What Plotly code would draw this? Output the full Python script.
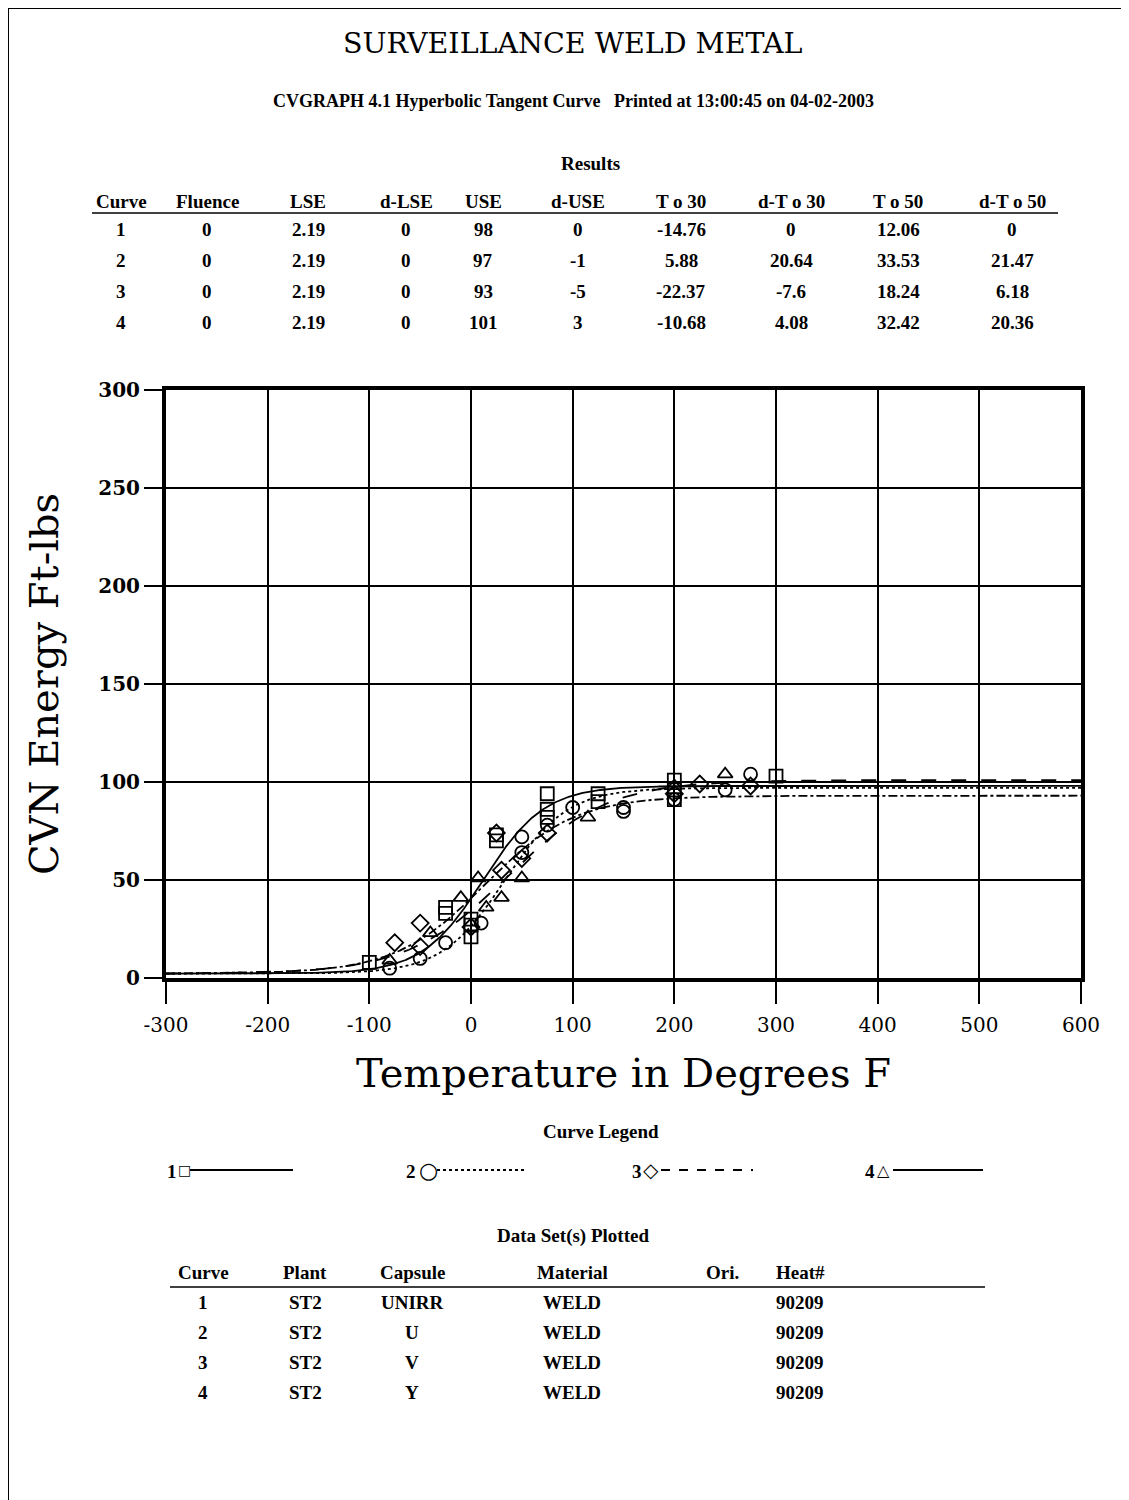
import numpy as np
import plotly.graph_objects as go

# ---------------- data ----------------
curve_ids = [1, 2, 3, 4]
fluence = [0, 0, 0, 0]
lse = [2.19, 2.19, 2.19, 2.19]
d_lse = [0, 0, 0, 0]
use = [98, 97, 93, 101]
d_use = [0, -1, -5, 3]
t30 = [-14.76, 5.88, -22.37, -10.68]
d_t30 = [0, 20.64, -7.6, 4.08]
t50 = [12.06, 33.53, 18.24, 32.42]
d_t50 = [0, 21.47, 6.18, 20.36]

plant = ["ST2", "ST2", "ST2", "ST2"]
capsule = ["UNIRR", "U", "V", "Y"]
material = ["WELD", "WELD", "WELD", "WELD"]
ori = ["", "", "", ""]
heat = ["90209", "90209", "90209", "90209"]

# measured Charpy points (temperature F, energy ft-lbs)
c1_temp = [-100, -25, -25, 0, 0, 0, 25, 25, 75, 75, 75, 125, 125, 200, 200, 200, 300]
c1_energy = [8, 36, 33, 30, 27, 21, 73, 70, 94, 86, 82, 94, 90, 101, 96, 91, 103]
c2_temp = [-80, -50, -25, 10, 50, 50, 75, 100, 150, 150, 200, 250, 275]
c2_energy = [5, 10, 18, 28, 72, 64, 78, 87, 87, 85, 91, 96, 104]
c3_temp = [-75, -50, -50, 0, 25, 30, 50, 75, 200, 225, 275]
c3_energy = [18, 28, 16, 26, 74, 55, 61, 74, 94, 99, 98]
c4_temp = [-80, -40, -10, 7, 15, 30, 50, 115, 200, 250]
c4_energy = [9, 23, 41, 51, 36, 41, 51, 82, 98, 104]

x_ticks = [-300, -200, -100, 0, 100, 200, 300, 400, 500, 600]
y_ticks = [0, 50, 100, 150, 200, 250, 300]

# ---------------- layout helpers ----------------
OFF = 8  # default body margin of the html page
W, H = 1129 - 2 * OFF, 1500 - OFF
L, R, T, B = 166, 1081, 390, 978   # target page pixel positions of plot box


def px(x):
    return (x - L) / (R - L)


def py(y):
    return (B - y) / (B - T)


fig = go.Figure()

# tanh curves from fitted parameters
temps = np.linspace(-300, 600, 901)
dashes = ["solid", "dot", "dashdot", "longdash"]
for i in range(4):
    A = (use[i] + lse[i]) / 2
    Bh = (use[i] - lse[i]) / 2
    u30 = np.arctanh((30 - A) / Bh)
    u50 = np.arctanh((50 - A) / Bh)
    C = (t50[i] - t30[i]) / (u50 - u30)
    T0 = t30[i] - C * u30
    e = A + Bh * np.tanh((temps - T0) / C)
    fig.add_trace(go.Scatter(x=temps, y=e, mode="lines",
                             line=dict(color="black", width=1.8, dash=dashes[i]),
                             showlegend=False, hoverinfo="skip"))

symbols = ["square-open", "circle-open", "diamond-open", "triangle-up-open"]
pts = [(c1_temp, c1_energy), (c2_temp, c2_energy), (c3_temp, c3_energy), (c4_temp, c4_energy)]
for i, (xs, ys) in enumerate(pts):
    fig.add_trace(go.Scatter(x=xs, y=ys, mode="markers",
                             marker=dict(symbol=symbols[i], size=13, color="black",
                                         line=dict(width=1.8, color="black")),
                             showlegend=False, name=f"Curve {curve_ids[i]}"))

serif = "DejaVu Serif"
cond = "Liberation Serif, Times New Roman, serif"

fig.update_layout(
    width=W, height=H,
    margin=dict(l=L - OFF, r=(W + OFF) - R, t=T - OFF, b=(H + OFF) - B),
    paper_bgcolor="white", plot_bgcolor="white",
    showlegend=False,
    xaxis=dict(range=[-300, 600], tickvals=x_ticks, ticktext=[str(v) for v in x_ticks],
               showgrid=True, gridcolor="black", gridwidth=1.5,
               showline=True, linecolor="black", linewidth=4, mirror=True,
               ticks="outside", ticklen=22, tickwidth=1.5, tickcolor="black",
               ticklabelstandoff=4,
               zeroline=False,
               tickfont=dict(family=serif, size=20, color="black"),
               title=dict(text="Temperature in Degrees F",
                          font=dict(family=serif, size=40, color="black"), standoff=24)),
    yaxis=dict(range=[0, 300], tickvals=y_ticks, ticktext=[str(v) for v in y_ticks],
               showgrid=True, gridcolor="black", gridwidth=1.5,
               showline=True, linecolor="black", linewidth=4, mirror=True,
               ticks="outside", ticklen=18, tickwidth=1.5, tickcolor="black",
               zeroline=False,
               tickfont=dict(family=serif, size=20, color="black", weight="bold"),
               title=dict(text="CVN Energy Ft-lbs",
                          font=dict(family=serif, size=40, color="black"), standoff=28)),
)

ann = []


def text(x, y, s, size=19, family=cond, bold=True, xanchor="center"):
    ann.append(dict(x=px(x), y=py(y), xref="paper", yref="paper", text=s, showarrow=False,
                    xanchor=xanchor, yanchor="middle",
                    font=dict(family=family, size=size, color="black",
                              weight="bold" if bold else "normal")))


shapes = []


def hline(x0, x1, y, width=1.5, dash="solid"):
    shapes.append(dict(type="line", xref="paper", yref="paper",
                       x0=px(x0), x1=px(x1), y0=py(y), y1=py(y),
                       line=dict(color="black", width=width, dash=dash)))


# titles
text(573, 44, "SURVEILLANCE WELD METAL", size=28.5, family=serif, bold=False)
text(573, 101, "CVGRAPH 4.1 Hyperbolic Tangent Curve   Printed at 13:00:45 on 04-02-2003", size=18)

# results table
text(590, 163, "Results", size=19)
res_cols = [121, 207, 308, 406, 483, 578, 681, 791, 898, 1012]
res_head = ["Curve", "Fluence", "LSE", "d-LSE", "USE", "d-USE", "T o 30", "d-T o 30", "T o 50", "d-T o 50"]
for cx, h in zip(res_cols, res_head):
    text(cx, 201, h)
hline(92, 1058, 213)
rows_y = [230, 261, 292, 322]
for i in range(4):
    vals = [curve_ids[i], fluence[i], lse[i], d_lse[i], use[i], d_use[i],
            t30[i], d_t30[i], t50[i], d_t50[i]]
    for cx, v in zip(res_cols, vals):
        text(cx, rows_y[i], str(v))

# curve legend
text(601, 1131, "Curve Legend")
leg = [(172, 184, 190, 293, "□", "solid", 14),
       (411, 428, 437, 525, "○", "dot", 22),
       (637, 651, 661, 753, "◇", "dash", 20),
       (870, 883, 893, 983, "△", "solid", 16)]
for i, (nx, sx, l0, l1, g, d, gs) in enumerate(leg):
    text(nx, 1171, str(curve_ids[i]))
    text(sx, 1170, g, size=gs, family="DejaVu Sans", bold=False)
    hline(l0, l1, 1170, width=1.8, dash=d)

# data sets table
text(573, 1236, "Data Set(s) Plotted")
ds_cols = [203, 305, 412, 572, 722, 800]
ds_head = ["Curve", "Plant", "Capsule", "Material", "Ori.", "Heat#"]
for cx, h in zip(ds_cols, ds_head):
    text(cx, 1272, h)
hline(170, 985, 1287)
ds_y = [1302, 1332, 1362, 1392]
for i in range(4):
    vals = [curve_ids[i], plant[i], capsule[i], material[i], ori[i], heat[i]]
    for cx, v in zip(ds_cols, vals):
        if v != "":
            text(cx, ds_y[i], str(v))

# page frame (scan border)
shapes.append(dict(type="line", xref="paper", yref="paper", x0=px(8), x1=px(1129),
                   y0=py(8), y1=py(8), line=dict(color="black", width=2)))
shapes.append(dict(type="line", xref="paper", yref="paper", x0=px(8), x1=px(8),
                   y0=py(8), y1=py(1500), line=dict(color="black", width=2)))

fig.update_layout(annotations=ann, shapes=shapes)
fig.write_html("out.html")
